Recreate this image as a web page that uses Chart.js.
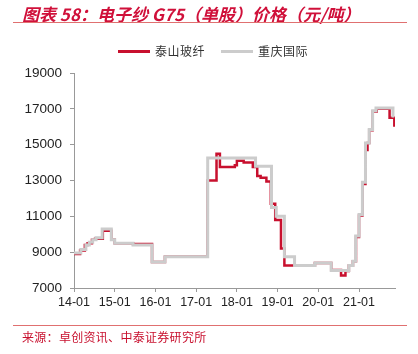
<!DOCTYPE html>
<html>
<head>
<meta charset="utf-8">
<script src="https://cdn.jsdelivr.net/npm/chart.js@4.4.1/dist/chart.umd.min.js"></script>
<style>
  html, body { margin: 0; padding: 0; background: #fff; }
  #wrap { position: relative; width: 418px; height: 354px; overflow: hidden; }
  #c { position: absolute; left: 0; top: 0; }
  .title { position: absolute; left: 22px; top: 1px; font: italic bold 17px "Noto Sans CJK SC", "Liberation Sans", sans-serif; color: #d0103a; white-space: nowrap; }
  .rule { position: absolute; left: 13px; width: 394px; height: 1px; background: #e07070; }
  .src { position: absolute; left: 22px; top: 328px; font: 12px "Noto Sans CJK SC", sans-serif; color: #c8102e; white-space: nowrap; letter-spacing: 0.3px; }
  .legend { position: absolute; top: 42px; font: 12px "Noto Sans CJK SC", sans-serif; color: #333; white-space: nowrap; letter-spacing: 0.5px; }
  .legend span.sw { display: inline-block; width: 32px; height: 3px; vertical-align: middle; margin-right: 5px; position: relative; top: -1px; }
</style>
</head>
<body>
<div id="wrap">
  <canvas id="c" width="418" height="354"></canvas>
  <div class="title">图表 58：电子纱 G75（单股）价格（元/吨）</div>
  <div class="rule" style="top:22px"></div>
  <div class="legend" style="left:118px"><span class="sw" style="background:#c8102e"></span>泰山玻纤</div>
  <div class="legend" style="left:221px"><span class="sw" style="background:#cccccc"></span>重庆国际</div>
  <div class="rule" style="top:325px"></div>
  <div class="src">来源：卓创资讯、中泰证券研究所</div>
</div>
<script>
// Month index counted from 2014-01 (0 = Jan 2014); value applies from that point on
const taishanMonths = [0, 1.8, 3.2, 4, 5.3, 6.2, 8.5, 11, 12, 17.4, 23, 26.8, 39.4, 42, 43, 47.4, 48, 50, 52.7, 54, 55, 56.7, 58, 59.3, 61, 62, 71, 75.8, 78.7, 80, 81, 82.2, 83.1, 84, 85, 85.9, 86.5, 87, 88, 89.2, 93, 94.4];
const taishanPrice  = [8900, 9100, 9400, 9500, 9700, 9750, 10200, 9700, 9500, 9450, 8450, 8750, 13000, 14500, 13750, 13850, 14100, 14000, 13750, 13250, 13150, 12950, 11700, 10800, 9200, 8250, 8400, 8000, 7700, 7950, 8250, 8500, 9850, 11050, 12800, 14700, 15100, 15800, 16850, 17000, 16500, 16000];
const chongqingMonths = [0, 2, 3.5, 4.5, 5.5, 6.5, 8.3, 11, 12, 17.4, 23, 26.8, 39.4, 53.5, 58.2, 59.6, 62, 65, 71, 75.8, 80, 81, 82.2, 83, 84, 85, 85.9, 87, 88, 89, 94, 94.4];
const chongqingPrice  = [8950, 9150, 9400, 9550, 9700, 9800, 10300, 9700, 9500, 9400, 8450, 8750, 14250, 13800, 11500, 11000, 8750, 8250, 8400, 7980, 7980, 8250, 8500, 9900, 11100, 12900, 15100, 15850, 16900, 17050, 16600, 16600];
const yearTickMonths = [0, 12, 24, 36, 48, 60, 72, 84];
const yearTickLabels = ["14-01", "15-01", "16-01", "17-01", "18-01", "19-01", "20-01", "21-01"];

const toPts = (xs, ys) => xs.map((x, i) => ({ x: x, y: ys[i] }));

new Chart(document.getElementById('c'), {
  type: 'line',
  data: {
    datasets: [
      { label: '泰山玻纤', data: toPts(taishanMonths, taishanPrice), borderColor: '#c8102e', backgroundColor: '#c8102e', borderWidth: 2.5, pointRadius: 0, stepped: true, order: 2 },
      { label: '重庆国际', data: toPts(chongqingMonths, chongqingPrice), borderColor: '#cccccc', backgroundColor: '#cccccc', borderWidth: 3, pointRadius: 0, stepped: true, order: 1 }
    ]
  },
  options: {
    responsive: false,
    animation: false,
    layout: { padding: { left: 0, right: 23, top: 73, bottom: 36 } },
    plugins: { legend: { display: false }, tooltip: { enabled: false } },
    scales: {
      x: {
        type: 'linear', min: 0, max: 94.6,
        afterBuildTicks: s => { s.ticks = yearTickMonths.map(v => ({ value: v })); },
        afterFit: s => { s.height = 30; },
        ticks: { callback: (v) => yearTickLabels[yearTickMonths.indexOf(v)], font: { family: 'Liberation Sans', size: 12.5 }, color: '#222', maxRotation: 0, padding: 3 },
        grid: { drawOnChartArea: false, drawTicks: true, tickLength: 4, color: '#999' },
        border: { color: '#999', width: 1 }
      },
      y: {
        min: 7000, max: 19000,
        ticks: { stepSize: 2000, callback: v => String(v), font: { family: 'Liberation Sans', size: 13.5 }, color: '#222', padding: 8 },
        afterFit: s => { s.width = 74; },
        grid: { drawOnChartArea: false, drawTicks: true, tickLength: 4, color: '#999' },
        border: { color: '#999', width: 1 }
      }
    }
  }
});
</script>
</body>
</html>
